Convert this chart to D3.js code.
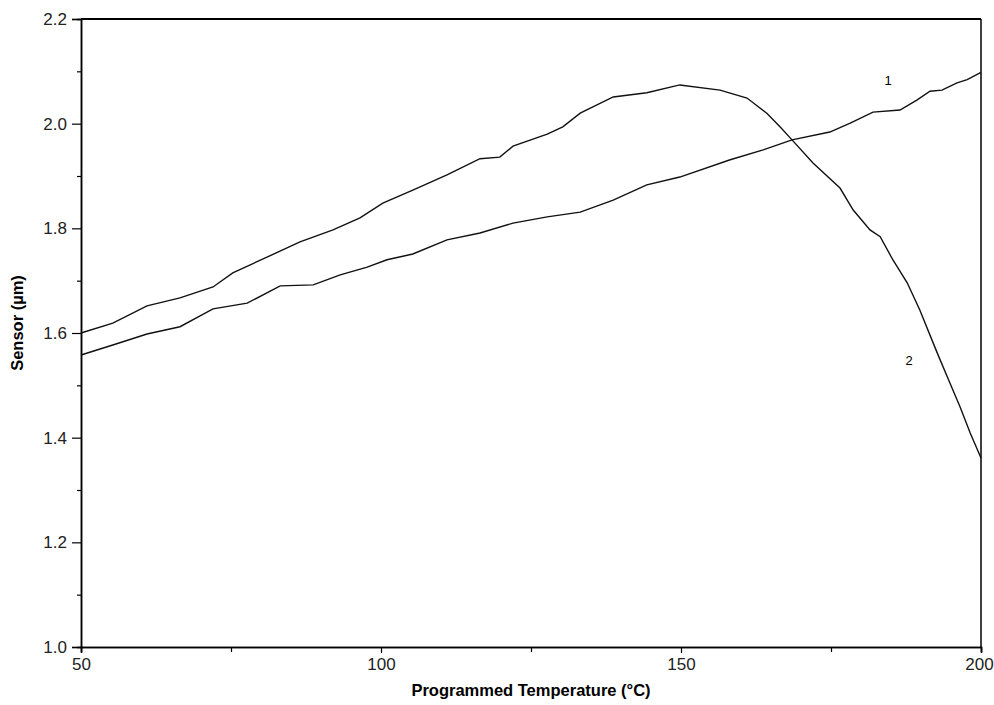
<!DOCTYPE html>
<html>
<head>
<meta charset="utf-8">
<script src="https://cdn.jsdelivr.net/npm/d3@7"></script>
<style>
  body { margin: 0; background: #fff }
  svg { display: block; font-family: Arial, "Liberation Sans", sans-serif }
</style>
</head>
<body>
<svg width="994" height="705"></svg>
<script>
// curve 1 : temperature (°C) / sensor (µm)
var temp1 = [50, 55.3, 61, 66.5, 72, 77.7, 83.2, 88.7, 93.2, 97.7, 101, 105.3, 111, 116.5, 122, 127.7,
             133.2, 138.7, 144.3, 149.8, 158.2, 163.7, 168.5, 174.8, 178.2, 182, 186.5, 189.3, 191.5,
             193.5, 196, 197.7, 200]
var sens1 = [1.558, 1.577, 1.598, 1.612, 1.646, 1.657, 1.690, 1.692, 1.711, 1.726, 1.740, 1.751, 1.778,
             1.791, 1.810, 1.822, 1.831, 1.854, 1.883, 1.898, 1.931, 1.950, 1.969, 1.984, 2.001, 2.022,
             2.026, 2.045, 2.062, 2.064, 2.078, 2.084, 2.098]

// curve 2
var temp2 = [50, 55.3, 61, 66.5, 72, 75.3, 81, 86.5, 92, 96.5, 100.3, 105.3, 111, 116.5, 119.8, 122,
             127.7, 130.3, 133.2, 138.7, 144.3, 149.8, 156.5, 161, 164.3, 166.5, 168.5, 172, 176.5,
             178.7, 181.5, 183.2, 185.3, 187.7, 189.8, 192.7, 194.8, 196.5, 198.2, 200]
var sens2 = [1.600, 1.619, 1.652, 1.667, 1.688, 1.715, 1.745, 1.774, 1.797, 1.820, 1.848, 1.873, 1.902,
             1.933, 1.936, 1.957, 1.980, 1.994, 2.020, 2.051, 2.059, 2.074, 2.064, 2.049, 2.020, 1.994,
             1.969, 1.925, 1.877, 1.835, 1.797, 1.784, 1.740, 1.696, 1.644, 1.562, 1.505, 1.459, 1.409,
             1.361]

var xTicks = [50, 100, 150, 200]
  , yTicks = [1.0, 1.2, 1.4, 1.6, 1.8, 2.0, 2.2]
  , curveLabels = [{ name: '1', t: 184.5, v: 2.082 }, { name: '2', t: 188, v: 1.548 }]

var svg = d3.select('svg')
  , m = { left: 81, right: 13, top: 19, bottom: 58 }
  , w = 994 - m.left - m.right
  , h = 705 - m.top - m.bottom

var x = d3.scaleLinear().domain([50, 200]).range([m.left, m.left + w])
  , y = d3.scaleLinear().domain([1.0, 2.2]).range([m.top + h, m.top])

// frame
svg.append('line').attr('x1', x(50)).attr('x2', x(200)).attr('y1', y(2.2)).attr('y2', y(2.2))
   .attr('stroke', '#000').attr('stroke-width', 2)
svg.append('line').attr('x1', x(200)).attr('x2', x(200)).attr('y1', y(2.2)).attr('y2', y(1.0))
   .attr('stroke', '#000').attr('stroke-width', 1.5)

var xAxis = svg.append('g').attr('transform', 'translate(0,' + y(1.0) + ')')
  .call(d3.axisBottom(x).tickValues(xTicks).tickSize(6).tickPadding(5).tickFormat(d3.format('d')))
var xMinor = svg.append('g').attr('transform', 'translate(0,' + y(1.0) + ')')
  .call(d3.axisBottom(x).tickValues([75, 125, 175]).tickSize(5).tickFormat(''))

var yAxis = svg.append('g').attr('transform', 'translate(' + x(50) + ',0)')
  .call(d3.axisLeft(y).tickValues(yTicks).tickSize(9).tickPadding(5).tickFormat(d3.format('.1f')))
var yMinor = svg.append('g').attr('transform', 'translate(' + x(50) + ',0)')
  .call(d3.axisLeft(y).tickValues([1.1, 1.3, 1.5, 1.7, 1.9, 2.1]).tickSize(4).tickFormat(''))

svg.selectAll('.domain').attr('stroke', '#000').attr('stroke-width', 1.5)
svg.selectAll('.tick line').attr('stroke', '#000').attr('stroke-width', 1.2)
svg.selectAll('.tick text').attr('font-size', 17).attr('fill', '#222')
   .attr('font-family', 'Arial, "Liberation Sans", sans-serif')

// last x label sits at the page edge, nudge it in
xAxis.selectAll('.tick text').filter(function (d) { return d === 200 }).attr('dx', -2)

// curves
var line = d3.line().x(function (d) { return x(d[0]) }).y(function (d) { return y(d[1]) })

;[d3.zip(temp1, sens1), d3.zip(temp2, sens2)].forEach(function (pts) {
  svg.append('path').datum(pts).attr('d', line)
     .attr('fill', 'none').attr('stroke', '#111').attr('stroke-width', 1.4)
})

svg.selectAll('.clab').data(curveLabels).enter().append('text')
   .attr('class', 'clab')
   .attr('x', function (d) { return x(d.t) }).attr('y', function (d) { return y(d.v) })
   .attr('text-anchor', 'middle').attr('dy', '0.35em').attr('font-size', 13).attr('fill', '#000')
   .text(function (d) { return d.name })

// titles
svg.append('text').attr('x', m.left + w / 2).attr('y', 696)
   .attr('text-anchor', 'middle').attr('font-size', 16.5).attr('font-weight', 'bold')
   .text('Programmed Temperature (°C)')

svg.append('text').attr('transform', 'translate(23,' + (m.top + h / 2 - 10) + ') rotate(-90)')
   .attr('text-anchor', 'middle').attr('font-size', 16.5).attr('font-weight', 'bold')
   .text('Sensor (µm)')
</script>
</body>
</html>
